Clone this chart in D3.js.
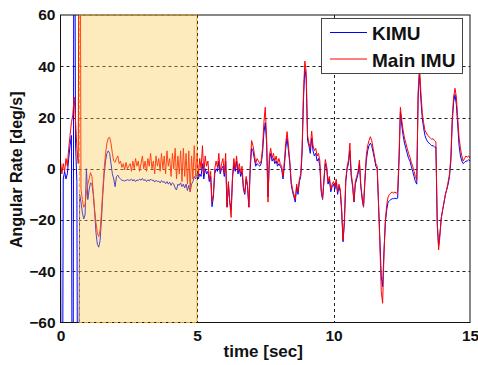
<!DOCTYPE html>
<html>
<head>
<meta charset="utf-8">
<script src="https://cdn.jsdelivr.net/npm/d3@7"></script>
<style>
  html, body { margin: 0; padding: 0; background: #fff; }
  svg { display: block; }
  text { font-family: Arial, "Liberation Sans", sans-serif; font-weight: bold; fill: #111; }
</style>
</head>
<body>
<svg id="chart" width="478" height="365"></svg>
<script>
// Angular rate of KIMU vs. main IMU, sampled every 0.05 s from 0 to 15 s
const sampleStep = 0.05;

const kimu = [
  -2, -200, -4, -1, -4, -2, 4, 9, 13, -200,
  200, 10, -5, -200, -10, -13, -17, -19.6, -18, 0,
  -12, -8, -5.5, -6, -10, -17, -25, -29.5, -30.6, -28,
  -20, -10, -2, 3, 6, 7, 6, 2, -2, -4,
  -7, -3, -2.5, -3.5, -4, -4.5, -4.6, -4.8, -4.5, -4.3,
  -4.5, -4.5, -4, -4.8, -4.2, -5, -4.4, -4.6, -4, -4.5,
  -3.8, -4.6, -4.2, -5, -4.3, -4.8, -4, -4.6, -4.4, -5.2,
  -4.5, -5, -4.8, -5.5, -4.6, -5.3, -5, -5.8, -5, -6,
  -5.2, -6.5, -5.5, -6, -7.5, -8.3, -6, -6.5, -5.5, -7,
  -6, -7.5, -6, -8.5, -6.5, -9, -6, -5, -3, -4,
  -2, -4, -2, -3, 2, -4, 0, -2, -1, -5,
  -3, -14.8, -11, -2, 0, -1, 3, -2, 0, 1,
  -3, 3, -15, -6, -13, -16, -4, 2, -1, 3,
  -2, 0, -3, -1, -8, -10, -4, -7, -15, 0,
  8, 7, 4, 1, 2, 1.5, 1, 2, 6, 14,
  18, 10, -11, 3, 6, 3, 4, 2, 3, 1,
  2, 1, 0, -4, 1, 8, 12, 7, 2, -6,
  -9, -11, -13, -7, -10, -5, -3, 6, 27, 39,
  35, 11, 9, 6, 12, 7, 5, 6, 3, 4,
  1, -9, -12, -5, 2, 0, -6, -4, -9, -7,
  -6, -8, -5, -10, -7, -9, -17, -28.5, -21, -5,
  0, 2, 7, -3, -7, -13, -6, -4, -2, 2,
  -7, -12, -15, -5, 3, 7, 9, 10, 9, 6.5,
  4, 1, 0, -14, -28, -42, -46, -32, -21, -16,
  -13, -12.5, -12, -11.7, -11.7, -11.5, -11.7, -11.5, 3, 22,
  17, 13, 10, 8, 6, 4, 3, 1, -1, -3,
  -5, -6, 28, 37, 27, 20, 16, 13, 11.5, 10.5,
  10, 9.5, 9, 9, 8.5, 8.5, -22, -30, -25, -19,
  -16, -13, -10, -8, -6, -3, 3, 18, 26, 29,
  25, 17, 9, 5, 3, 2, 2.5, 3, 3, 3.5,
  3
];

const mainImu = [
  3, -2, 2, -1, 4, 1, 8, 13, 18, 21,
  28, 19, 8, 2, 200, -8, -12, -15, -14, -9,
  -6, -4, -1.5, -3, -9, -16, -21, -25, -26.5, -24,
  -17, -8, 0, 6, 10, 12, 12.3, 10, 6, 3,
  2.5, 4, 5, 2, 3, 0.5, 2, -0.5, 2.5, 0,
  1, 2, -1, 3, 0, 4, 1, 3, -1, 2,
  5, 0, 3, -1, 4, 1, 6, 0, 3, -2,
  5, 1, 4, -1, 6, 0, 5, -2, 7, 1,
  4, -3, 6, 0, 8, -4, 5, -2, 7, -5,
  8, -3, 6, -6, 7, -9, 5, -4, 9, -3,
  6, -3, 4, 0, 9, -2, 5, 1, 3, -4,
  -1, -13, -10, 0, 3, 0.5, 6, -1, 2, 4,
  -2, 6, -15, -5, -13, -19, -3, 4, 0, 5,
  -1, 2, -2, 1, -7, -9.5, -3, -6, -15, 2,
  11, 9, 6, 2, 4, 3, 2, 3, 8, 18,
  24, 12, -13, 5, 8, 4, 6, 3, 5, 2,
  4, 2, 1, -3, 3, 10, 14.5, 9, 3, -5,
  -8, -10, -12, -6, -9, -4, -2, 8, 30, 42,
  38, 13, 10, 8, 14.7, 9, 7, 8, 5, 6,
  3, -8, -11.7, -4, 3.6, 1, -5, -3, -8, -6,
  -5, -7, -4, -9, -6, -8, -16, -27.8, -20, -4,
  1, 3.4, 10, -2, -6, -12.8, -5, -3, -1, 3.4,
  -6, -11, -14.8, -4, 5, 9, 11, 12.5, 11, 8,
  5, 2, 1, -13.5, -30, -48, -52.5, -33, -20, -14,
  -11, -10, -9.5, -9, -9.6, -9, -9.6, -9, 5, 24,
  19, 15, 12, 10, 8, 6, 4.5, 2.5, 1, -1,
  -3, -4.4, 30, 40, 30, 22, 18, 15, 14, 13,
  12.5, 12, 11.5, 11.7, 11, 10.5, -20, -31.7, -26, -19,
  -16, -13, -10, -8, -5, -2, 5, 20, 28, 31.4,
  28, 20, 12, 8, 5, 3, 4, 5, 4.5, 5,
  4
];

const xTicks = [0, 5, 10, 15];
const yTicks = [-60, -40, -20, 0, 20, 40, 60];
const shadedSpan = [0.69, 5];
const seriesNames = ["KIMU", "Main IMU"];
const seriesColors = ["#0000ff", "#ff0000"];

const svg = d3.select("#chart");
const plotLeft = 60.5, plotRight = 470, plotTop = 15, plotBottom = 322.5;

const x = d3.scaleLinear().domain([0, 15]).range([plotLeft, plotRight]);
const y = d3.scaleLinear().domain([-60, 60]).range([plotBottom, plotTop]);

svg.append("defs").append("clipPath").attr("id", "plotClip")
  .append("rect").attr("x", plotLeft).attr("y", plotTop)
  .attr("width", plotRight - plotLeft).attr("height", plotBottom - plotTop);

// dotted grid
const grid = svg.append("g").attr("stroke", "#222").attr("stroke-width", 1)
  .attr("stroke-dasharray", "3,3");
grid.selectAll("line.h").data(yTicks.filter(v => v > -60 && v < 60)).join("line")
  .attr("class", "h")
  .attr("x1", plotLeft).attr("x2", plotRight)
  .attr("y1", d => Math.round(y(d)) + 0.5).attr("y2", d => Math.round(y(d)) + 0.5);
grid.selectAll("line.v").data(xTicks.filter(v => v > 0 && v < 15)).join("line")
  .attr("class", "v")
  .attr("y1", plotTop).attr("y2", plotBottom)
  .attr("x1", d => Math.round(x(d)) + 0.5).attr("x2", d => Math.round(x(d)) + 0.5);

// traces
const line = d3.line().x((d, i) => x(i * sampleStep)).y(d => y(d));
const traces = svg.append("g").attr("clip-path", "url(#plotClip)");
[kimu, mainImu].forEach((series, k) => {
  traces.append("path").datum(series)
    .attr("fill", "none").attr("stroke", seriesColors[k])
    .attr("stroke-width", 1).attr("stroke-linejoin", "round")
    .attr("d", line);
});

// translucent highlighted interval
svg.append("rect")
  .attr("x", x(shadedSpan[0])).attr("y", plotTop)
  .attr("width", x(shadedSpan[1]) - x(shadedSpan[0])).attr("height", plotBottom - plotTop)
  .attr("fill", "#f9c645").attr("fill-opacity", 0.35);

// plot frame
svg.append("rect").attr("x", plotLeft).attr("y", plotTop)
  .attr("width", plotRight - plotLeft).attr("height", plotBottom - plotTop)
  .attr("fill", "none").attr("stroke", "#111").attr("stroke-width", 1);

// dashed border of the interval
svg.append("rect")
  .attr("x", x(shadedSpan[0])).attr("y", plotTop)
  .attr("width", x(shadedSpan[1]) - x(shadedSpan[0])).attr("height", plotBottom - plotTop)
  .attr("fill", "none").attr("stroke", "#e8a317").attr("stroke-width", 1)
  .attr("stroke-dasharray", "4,2");

// axes
const yAxis = svg.append("g").attr("transform", `translate(${plotLeft},0)`)
  .call(d3.axisLeft(y).tickValues(yTicks).tickSize(0).tickPadding(5));
const xAxis = svg.append("g").attr("transform", `translate(0,${plotBottom})`)
  .call(d3.axisBottom(x).tickValues(xTicks).tickSize(0).tickPadding(7.5));
[yAxis, xAxis].forEach(a => {
  a.select(".domain").remove();
  a.selectAll("text").attr("font-size", 15.5).attr("font-weight", "bold")
    .attr("font-family", "Arial, 'Liberation Sans', sans-serif").attr("fill", "#111");
});

svg.append("text").attr("x", (plotLeft + plotRight) / 2 - 2).attr("y", 357)
  .attr("text-anchor", "middle").attr("font-size", 17).text("time [sec]");
svg.append("text").attr("transform", `translate(22,${(plotTop + plotBottom) / 2 + 1}) rotate(-90)`)
  .attr("text-anchor", "middle").attr("font-size", 16).text("Angular Rate [deg/s]");

// legend
const lg = svg.append("g");
lg.append("rect").attr("x", 321.5).attr("y", 18.5).attr("width", 141).attr("height", 55)
  .attr("fill", "#fff").attr("stroke", "#444").attr("stroke-width", 1);
seriesNames.forEach((name, k) => {
  const cy = 32.5 + k * 26.5;
  lg.append("line").attr("x1", 330).attr("x2", 367).attr("y1", cy).attr("y2", cy)
    .attr("stroke", seriesColors[k]).attr("stroke-width", 1);
  lg.append("text").attr("x", 372).attr("y", cy + 7.5).attr("font-size", 19).text(name);
});
</script>
</body>
</html>
